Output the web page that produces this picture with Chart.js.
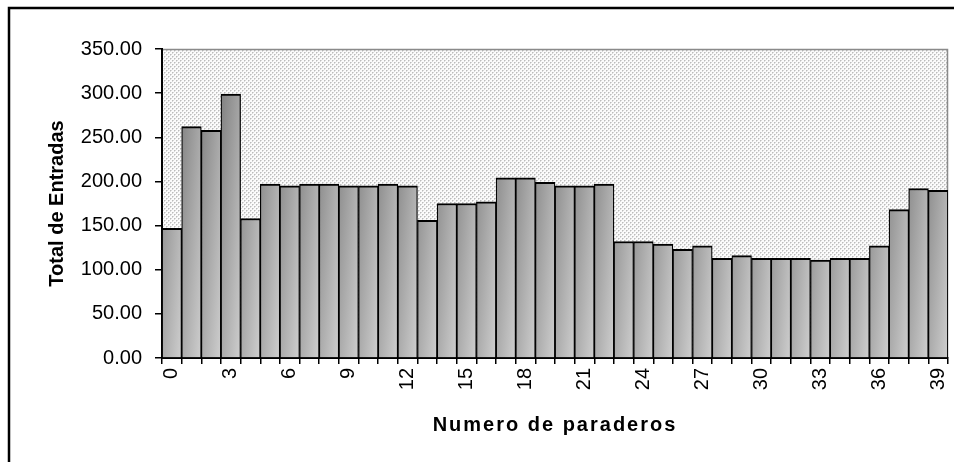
<!DOCTYPE html>
<html>
<head>
<meta charset="utf-8">
<script src="https://cdn.jsdelivr.net/npm/chart.js@4"></script>
<style>
  html, body { margin: 0; padding: 0; background: #ffffff; overflow: hidden; }
  #wrap { position: relative; width: 954px; height: 462px; }
</style>
</head>
<body>
<div id="wrap"><canvas id="c" width="954" height="462"></canvas></div>
<script>
// Stops along the route (category axis)
const paraderos = ['0','1','2','3','4','5','6','7','8','9','10','11','12','13','14','15','16','17','18','19',
                   '20','21','22','23','24','25','26','27','28','29','30','31','32','33','34','35','36','37','38','39'];
// Total boardings at each stop
const totalEntradas = [147, 262, 258, 299, 158, 197, 195, 197, 197, 195,
                       195, 197, 195, 156, 175, 175, 177, 204, 204, 199,
                       195, 195, 197, 132, 132, 129, 123, 127, 113, 116,
                       113, 113, 113, 111, 113, 113, 127, 168, 192, 190];
// Axis settings
const yMin = 0, yMax = 350, yStep = 50;
const labelStep = 3;   // every third stop is labelled
const xTitle = 'Numero de paraderos';
const yTitle = 'Total de Entradas';

const FONT = '"Liberation Sans", Arial, Helvetica, sans-serif';
Chart.defaults.font.family = FONT;
Chart.defaults.color = '#000';

// Category axis whose title can be drawn with extra letter spacing
class SpacedCategoryScale extends Chart.CategoryScale {
  drawTitle() {
    const ctx = this.ctx;
    ctx.save();
    const sp = this.options.title && this.options.title.letterSpacing;
    if (sp && 'letterSpacing' in ctx) ctx.letterSpacing = sp;
    super.drawTitle();
    ctx.restore();
  }
}
SpacedCategoryScale.id = 'spacedCategory';
SpacedCategoryScale.defaults = Chart.CategoryScale.defaults;
Chart.register(SpacedCategoryScale);

// Dotted plot background, thin grey plot frame and the outer chart frame
const plotBackground = {
  id: 'plotBackground',
  beforeDraw(chart) {
    const { ctx, chartArea: a } = chart;
    const tile = document.createElement('canvas');
    tile.width = 4; tile.height = 4;
    const t = tile.getContext('2d');
    t.fillStyle = '#fbfbfb'; t.fillRect(0, 0, 4, 4);
    t.fillStyle = '#d9d9d9';
    t.fillRect(1, 0, 1, 1); t.fillRect(0, 1, 1, 1); t.fillRect(3, 2, 1, 1); t.fillRect(2, 3, 1, 1);
    t.fillStyle = '#bcbcbc';
    t.fillRect(0, 0, 1, 1); t.fillRect(2, 2, 1, 1);
    ctx.save();
    ctx.fillStyle = ctx.createPattern(tile, 'repeat');
    ctx.fillRect(a.left, a.top, a.width, a.height);
    ctx.strokeStyle = '#8a8a8a';
    ctx.lineWidth = 1.5;
    ctx.beginPath();
    ctx.moveTo(a.left, a.top + 0.5);
    ctx.lineTo(a.right - 0.5, a.top + 0.5);
    ctx.lineTo(a.right - 0.5, a.bottom);
    ctx.stroke();
    ctx.strokeStyle = '#000';
    ctx.lineWidth = 2.5;
    ctx.beginPath();
    ctx.moveTo(9, chart.height + 5);
    ctx.lineTo(9, 8);
    ctx.lineTo(chart.width + 5, 8);
    ctx.stroke();
    ctx.restore();
  }
};

// Grey shading of each bar: dark at top-left, light at bottom-right
function barFill(c) {
  const chart = c.chart;
  const a = chart.chartArea;
  const xs = chart.scales.x;
  if (!a || !xs || c.type !== 'data') return '#a0a0a0';
  const w = xs.width / paraderos.length;
  const x0 = xs.getPixelForValue(c.dataIndex) - w / 2;
  const g = chart.ctx.createLinearGradient(x0, a.top, x0 + 46, a.top + 4);
  g.addColorStop(0, '#7a7a7a');
  g.addColorStop(1, '#cecece');
  return g;
}

new Chart(document.getElementById('c'), {
  type: 'bar',
  data: {
    labels: paraderos,
    datasets: [{
      label: yTitle,
      data: totalEntradas,
      backgroundColor: barFill,
      borderColor: '#000',
      borderWidth: { top: 2, left: 1.25, right: 1.25, bottom: 0 },
      barPercentage: 1,
      categoryPercentage: 1
    }]
  },
  options: {
    responsive: false,
    animation: false,
    events: [],
    layout: { padding: { left: 40, top: 49, right: 6, bottom: 14 } },
    plugins: {
      legend: { display: false },
      tooltip: { enabled: false }
    },
    scales: {
      x: {
        type: 'spacedCategory',
        offset: true,
        grid: { offset: true, drawOnChartArea: false, drawTicks: true, tickLength: 6, color: '#000', lineWidth: 1.5 },
        border: { color: '#000', width: 2 },
        ticks: {
          autoSkip: false,
          minRotation: 90,
          maxRotation: 90,
          padding: 4,
          color: '#000',
          font: { family: FONT, size: 20 },
          callback(v, i) { return i % labelStep === 0 ? this.getLabelForValue(v) : ''; }
        },
        title: {
          display: true,
          text: xTitle,
          color: '#000',
          font: { family: FONT, size: 20, weight: 'bold' },
          padding: { top: 0, bottom: 11 },
          letterSpacing: '2px'
        },
        afterFit(s) { s.height = 90; s.paddingLeft = 0; s.paddingRight = 0; }
      },
      y: {
        min: yMin,
        max: yMax,
        grid: { drawOnChartArea: false, drawTicks: true, tickLength: 7, color: '#000', lineWidth: 1.5 },
        border: { color: '#000', width: 2 },
        ticks: {
          stepSize: yStep,
          padding: 13,
          color: '#000',
          font: { family: FONT, size: 20 },
          callback: v => Number(v).toFixed(2)
        },
        title: {
          display: true,
          text: yTitle,
          color: '#000',
          font: { family: FONT, size: 20, weight: 'bold' },
          padding: { top: 5, bottom: 0 }
        },
        afterFit(s) { s.width = 122; }
      }
    }
  },
  plugins: [plotBackground]
});
</script>
</body>
</html>
